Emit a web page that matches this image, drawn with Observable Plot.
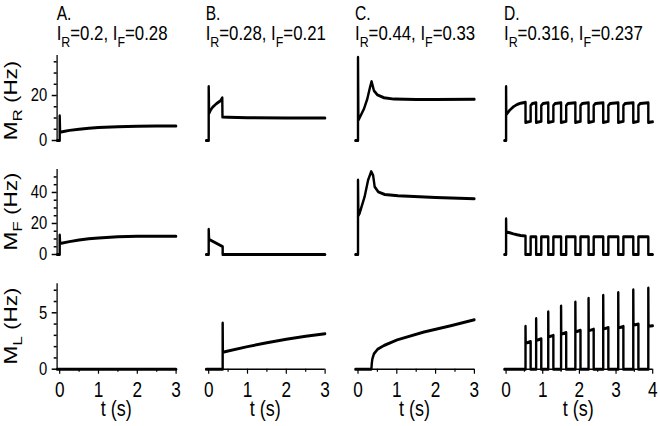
<!DOCTYPE html>
<html><head><meta charset="utf-8">
<script src="https://cdn.jsdelivr.net/npm/d3@7"></script>
<script src="https://cdn.jsdelivr.net/npm/@observablehq/plot@0.6"></script>
<style>
html,body{margin:0;padding:0;background:#fff;overflow:hidden;}
#fig text{font-family:"Liberation Sans", Arial, sans-serif;fill:#000;}
</style></head>
<body>
<svg id="fig" width="660" height="426" xmlns="http://www.w3.org/2000/svg"><g id="root" transform="scale(0.8,1)"></g></svg>
<script>
// ---- data ----
const colLetters = ["A.", "B.", "C.", "D."];
const IRvals = ["0.2", "0.28", "0.44", "0.316"];
const IFvals = ["0.28", "0.21", "0.33", "0.237"];
const rowSubs = ["R", "F", "L"];

const yMajor = [[0, 20], [0, 20, 40], [0, 5]];
const yMinor = [[5, 10, 15, 25, 30, 35], [5, 10, 15, 25, 30, 35, 45, 50], [1, 2, 3, 4, 6, 7]];
const xMajor3 = [0, 1, 2, 3], xMinor3 = [0.5, 1.5, 2.5];
const xMajor4 = [0, 1, 2, 3, 4], xMinor4 = [0.5, 1.5, 2.5, 3.5];

const tA_R = [-0.067, 0, 0, 0.01, 0.1, 0.25, 0.5, 0.75, 1, 1.5, 2, 2.5, 3];
const vA_R = [0, 0, 11, 3.7, 4.0, 4.5, 5.0, 5.4, 5.8, 6.1, 6.3, 6.4, 6.4];
const tA_F = [-0.067, 0, 0, 0.01, 0.25, 0.5, 0.75, 1, 1.5, 2, 2.5, 3];
const vA_F = [0, 0, 12.5, 7.1, 8.3, 9.3, 10.1, 10.7, 11.4, 11.7, 11.8, 11.8];
const tA_L = [-0.067, 3];
const vA_L = [0, 0];

const tB_R = [-0.067, 0, 0, 0.01, 0.05, 0.1, 0.2, 0.3, 0.35, 0.355, 0.5, 1, 2, 3];
const vB_R = [0, 0, 24, 12, 13.5, 14.8, 16.4, 17.6, 19, 10.4, 10.3, 10.1, 10, 10];
const tB_F = [-0.067, 0, 0, 0.01, 0.36, 0.36, 3];
const vB_F = [0, 0, 16.3, 9.7, 5, 0, 0];
const tB_L = [-0.067, 0.36, 0.36, 0.365, 0.5, 1, 1.5, 2, 2.5, 3];
const vB_L = [0, 0, 4.1, 1.5, 1.62, 2.0, 2.35, 2.65, 2.92, 3.15];

const tC_R = [-0.067, 0, 0, 0.01, 0.07, 0.155, 0.24, 0.31, 0.35, 0.41, 0.5, 0.67, 0.93, 1.5, 2, 3];
const vC_R = [0, 0, 37, 9, 11.1, 14.1, 18.5, 23.7, 26.2, 22.2, 20.3, 19, 18.4, 18.2, 18.2, 18.3];
const tC_F = [-0.067, 0, 0, 0.01, 0.04, 0.17, 0.26, 0.34, 0.39, 0.43, 0.52, 0.69, 1.03, 2, 3];
const vC_F = [0, 0, 48, 25, 26.5, 37.2, 48, 53.5, 51, 43.7, 40.4, 38.7, 37.8, 36.8, 35.9];
const tC_L = [-0.067, 0.345, 0.355, 0.37, 0.41, 0.5, 0.67, 1.01, 1.7, 2.39, 3];
const vC_L = [0, 0, 0.5, 0.9, 1.36, 1.75, 2.1, 2.6, 3.3, 3.85, 4.38];

const tD_R = [-0.046, 0, 0, 0.005, 0.1, 0.2, 0.3, 0.4, 0.53,
  0.53, 0.67, 0.67, 0.72, 0.82,
  0.82, 0.96, 0.96, 1.01, 1.15,
  1.15, 1.29, 1.29, 1.34, 1.50,
  1.50, 1.64, 1.64, 1.69, 1.89,
  1.89, 2.03, 2.03, 2.08, 2.25,
  2.25, 2.39, 2.39, 2.44, 2.65,
  2.65, 2.79, 2.79, 2.84, 3.06,
  3.06, 3.20, 3.20, 3.25, 3.47,
  3.47, 3.61, 3.61, 3.66, 3.88,
  3.88, 4.0];
const vD_R = [0, 0, 24, 11.5, 13.5, 15, 16, 16.6, 17,
  8, 8.5, 15.5, 16.5, 16.8,
  8, 8.5, 15.5, 16.5, 16.8,
  8, 8.5, 15.5, 16.5, 16.8,
  8, 8.5, 15.5, 16.5, 16.8,
  8, 8.5, 15.5, 16.5, 16.8,
  8, 8.5, 15.5, 16.5, 16.8,
  8, 8.5, 15.5, 16.5, 16.8,
  8, 8.5, 15.5, 16.5, 16.8,
  8, 8.5, 15.5, 16.5, 16.8,
  8, 8.3];
const tD_F = [-0.046, 0, 0, 0.005, 0.1, 0.2, 0.3, 0.4, 0.53,
  0.53, 0.67, 0.67, 0.82,
  0.82, 0.96, 0.96, 1.15,
  1.15, 1.29, 1.29, 1.50,
  1.50, 1.64, 1.64, 1.89,
  1.89, 2.03, 2.03, 2.25,
  2.25, 2.39, 2.39, 2.65,
  2.65, 2.79, 2.79, 3.06,
  3.06, 3.20, 3.20, 3.47,
  3.47, 3.61, 3.61, 3.88,
  3.88, 4.0];
const vD_F = [0, 0, 23, 14.5, 14, 13.3, 12.7, 12.3, 12,
  0, 0, 11.5, 11.5,
  0, 0, 11.5, 11.5,
  0, 0, 11.5, 11.5,
  0, 0, 11.5, 11.5,
  0, 0, 11.5, 11.5,
  0, 0, 11.5, 11.5,
  0, 0, 11.5, 11.5,
  0, 0, 11.5, 11.5,
  0, 0, 11.5, 11.5,
  0, 0];
const tD_L = [-0.046, 0.53,
  0.53, 0.535, 0.67, 0.67, 0.82,
  0.82, 0.825, 0.96, 0.96, 1.15,
  1.15, 1.155, 1.29, 1.29, 1.50,
  1.50, 1.505, 1.64, 1.64, 1.89,
  1.89, 1.895, 2.03, 2.03, 2.25,
  2.25, 2.255, 2.39, 2.39, 2.65,
  2.65, 2.655, 2.79, 2.79, 3.06,
  3.06, 3.065, 3.20, 3.20, 3.47,
  3.47, 3.475, 3.61, 3.61, 3.88,
  3.88, 3.885, 4.0];
const vD_L = [0, 0,
  3.8, 2.3, 2.45, 0, 0,
  4.5, 2.55, 2.7, 0, 0,
  5.1, 2.85, 3.0, 0, 0,
  5.6, 3.1, 3.25, 0, 0,
  5.95, 3.3, 3.45, 0, 0,
  6.3, 3.4, 3.55, 0, 0,
  6.55, 3.55, 3.7, 0, 0,
  6.8, 3.65, 3.8, 0, 0,
  7.05, 3.9, 4.0, 0, 0,
  7.2, 3.8, 3.85];

// ---- layout ----
const SX = 0.8;
const FONT = "Liberation Sans, Arial, sans-serif";
const colX = [[56.7, 175.7], [205.7, 324.7], [355, 474], [504, 652.3]];
const rowY = [[55, 140], [169, 254], [283.3, 368.7]];
const xDom = [[-0.067, 3], [-0.067, 3], [-0.067, 3], [-0.046, 4]];
const yDom = [[0, 37.8], [0, 54.8], [0, 7.57]];

const grid = [
  [[tA_R, vA_R], [tB_R, vB_R], [tC_R, vC_R], [tD_R, vD_R]],
  [[tA_F, vA_F], [tB_F, vB_F], [tC_F, vC_F], [tD_F, vD_F]],
  [[tA_L, vA_L], [tB_L, vB_L], [tC_L, vC_L], [tD_L, vD_L]]
];

const root = d3.select("#root");

function panel(r, c) {
  const [t, v] = grid[r][c];
  const x0 = colX[c][0] / SX, x1 = colX[c][1] / SX;
  const [y0, y1] = rowY[r];
  const ml = c === 0 ? 60 : 4, mr = 6, mt = 4, mb = r === 2 ? 45 : 4;
  const w = (x1 - x0) + ml + mr, h = (y1 - y0) + mt + mb;
  const marks = [];
  if (c === 0) {
    marks.push(Plot.ruleX([xDom[c][0]], {stroke: "black", strokeWidth: 1.6}));
    marks.push(Plot.axisY(yMajor[r], {tickSize: 6.25, tickPadding: 6, fontSize: 18.5, strokeWidth: 1.5, label: null}));
    marks.push(Plot.axisY(yMinor[r], {tickSize: 3.75, tickFormat: () => "", strokeWidth: 1.5, label: null}));
  }
  if (r === 2) {
    marks.push(Plot.ruleY([0], {stroke: "black", strokeWidth: 1.6}));
    const maj = c === 3 ? xMajor4 : xMajor3, mnr = c === 3 ? xMinor4 : xMinor3;
    marks.push(Plot.axisX(maj, {tickSize: 5, tickPadding: 8, fontSize: 21.5, strokeWidth: 1.5, label: null}));
    marks.push(Plot.axisX(mnr, {tickSize: 3, tickFormat: () => "", strokeWidth: 1.5, label: null}));
  }
  marks.push(Plot.line(t, {x: t, y: v, stroke: "black", strokeWidth: 3, strokeLinejoin: "round"}));
  const svg = Plot.plot({
    width: w, height: h,
    marginLeft: ml, marginRight: mr, marginTop: mt, marginBottom: mb,
    x: {domain: xDom[c], axis: r === 2 ? undefined : null},
    y: {domain: yDom[r], axis: c === 0 ? undefined : null},
    style: {fontFamily: FONT, color: "black", background: "none", overflow: "visible",
            width: w + "px", height: h + "px", maxWidth: "none"},
    marks
  });
  const g = root.append("g").attr("transform", `translate(${x0 - ml},${y0 - mt})`);
  g.node().appendChild(svg);
}

for (let r = 0; r < 3; r++) for (let c = 0; c < 4; c++) panel(r, c);

// titles
for (let c = 0; c < 4; c++) {
  const x = colX[c][0] / SX;
  root.append("text").attr("x", x).attr("y", 20.5).attr("font-size", 19.5).text(colLetters[c]);
  const t = root.append("text").attr("x", x).attr("y", 40.5).attr("font-size", 21);
  t.append("tspan").text("I");
  t.append("tspan").attr("font-size", 15.5).attr("dy", 6.5).text("R");
  t.append("tspan").attr("dy", -6.5).text("=" + IRvals[c] + ", I");
  t.append("tspan").attr("font-size", 15.5).attr("dy", 6.5).text("F");
  t.append("tspan").attr("dy", -6.5).text("=" + IFvals[c]);
  // x label
  root.append("text").attr("x", (colX[c][0] + colX[c][1]) / 2 / SX).attr("y", 416.5)
    .attr("font-size", 22.5).attr("text-anchor", "middle").text("t (s)");
}
// y labels
for (let r = 0; r < 3; r++) {
  const cy = (rowY[r][0] + rowY[r][1]) / 2 + (r === 0 ? 3 : 0);
  const t = root.append("text").attr("transform", `translate(${16.7 / SX},${cy}) rotate(-90)`)
    .attr("font-size", 22.5).attr("text-anchor", "middle");
  t.append("tspan").text("M");
  t.append("tspan").attr("font-size", 17).attr("dy", 6.5).text(rowSubs[r]);
  t.append("tspan").attr("dy", -6.5).text(" (Hz)");
}
</script>
</body></html>
